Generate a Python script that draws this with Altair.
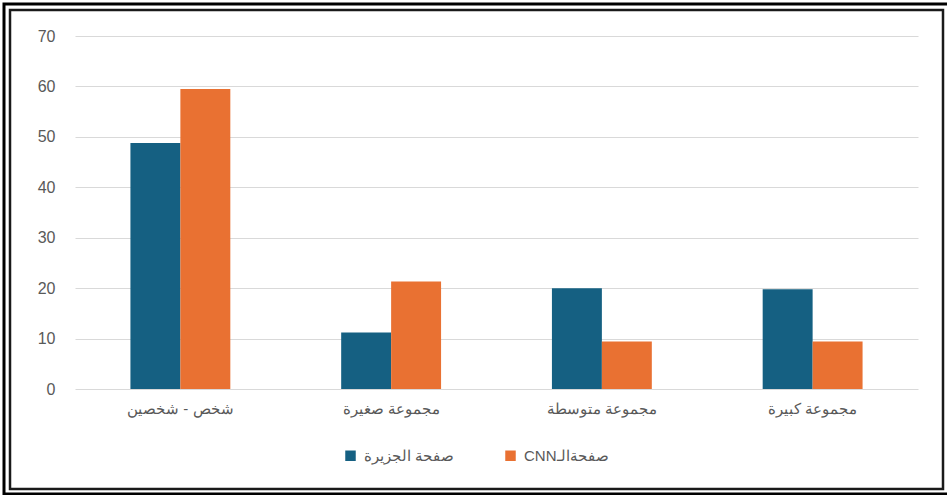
import altair as alt
import pandas as pd

# Group sizes shown on the x axis, left to right
categories = ["شخص - شخصين", "مجموعة صغيرة", "مجموعة متوسطة", "مجموعة كبيرة"]

# Share (%) per page
series_names = ["صفحة الجزيرة", "\u202bصفحةالـCNN\u202c"]
jazeera = [48.8, 11.2, 20.0, 19.8]
cnn = [59.5, 21.3, 9.4, 9.4]

colors = ["#156082", "#E97132"]

rows = []
for i, cat in enumerate(categories):
    rows.append({"category": cat, "page": series_names[0], "value": jazeera[i]})
    rows.append({"category": cat, "page": series_names[1], "value": cnn[i]})
df = pd.DataFrame(rows)

W, H = 843, 353
FONT = "Liberation Sans"

bars = alt.Chart(df).mark_bar().encode(
    x=alt.X(
        "category:N",
        sort=categories,
        title=None,
        scale=alt.Scale(paddingInner=0.526, paddingOuter=0.263),
        axis=alt.Axis(
            labelAngle=0,
            labelFontSize=15,
            labelColor="#595959",
            labelPadding=12,
            ticks=False,
            domain=False,
            grid=False,
        ),
    ),
    xOffset=alt.XOffset("page:N", sort=series_names),
    y=alt.Y(
        "value:Q",
        title=None,
        scale=alt.Scale(domain=[0, 70]),
        axis=alt.Axis(
            values=[0, 10, 20, 30, 40, 50, 60, 70],
            labelFontSize=16,
            labelColor="#595959",
            labelPadding=20,
            ticks=False,
            domain=False,
            gridColor="#d9d9d9",
            gridWidth=1.2,
        ),
    ),
    color=alt.Color(
        "page:N",
        sort=series_names,
        scale=alt.Scale(domain=series_names, range=colors),
        legend=alt.Legend(
            title=None,
            orient="none",
            legendX=268,
            legendY=412,
            direction="horizontal",
            symbolType="square",
            symbolSize=110,
            symbolStrokeWidth=0,
            labelFontSize=15,
            labelColor="#595959",
            columnPadding=48,
            labelOffset=6,
        ),
    ),
)

# Double frame around the whole figure
outer = alt.Chart(pd.DataFrame({"k": [0]})).mark_rect(
    fillOpacity=0, stroke="black", strokeWidth=3
).encode(
    x=alt.value(-71), x2=alt.value(877), y=alt.value(-32), y2=alt.value(458)
)
inner = alt.Chart(pd.DataFrame({"k": [0]})).mark_rect(
    fillOpacity=0, stroke="#1a1a1a", strokeWidth=2.5
).encode(
    x=alt.value(-65), x2=alt.value(868), y=alt.value(-26), y2=alt.value(453)
)

chart = (
    alt.layer(bars, inner, outer)
    .properties(
        width=W,
        height=H,
        autosize=alt.AutoSizeParams(type="none"),
        padding={"left": 75, "top": 36, "right": 29, "bottom": 106},
        background="white",
        view=alt.ViewBackground(strokeOpacity=0, strokeWidth=0),
    )
    .configure_view(strokeWidth=0, strokeOpacity=0)
    .configure(font=FONT)
)

chart.save("out.html", embed_options={"renderer": "svg", "actions": False})
